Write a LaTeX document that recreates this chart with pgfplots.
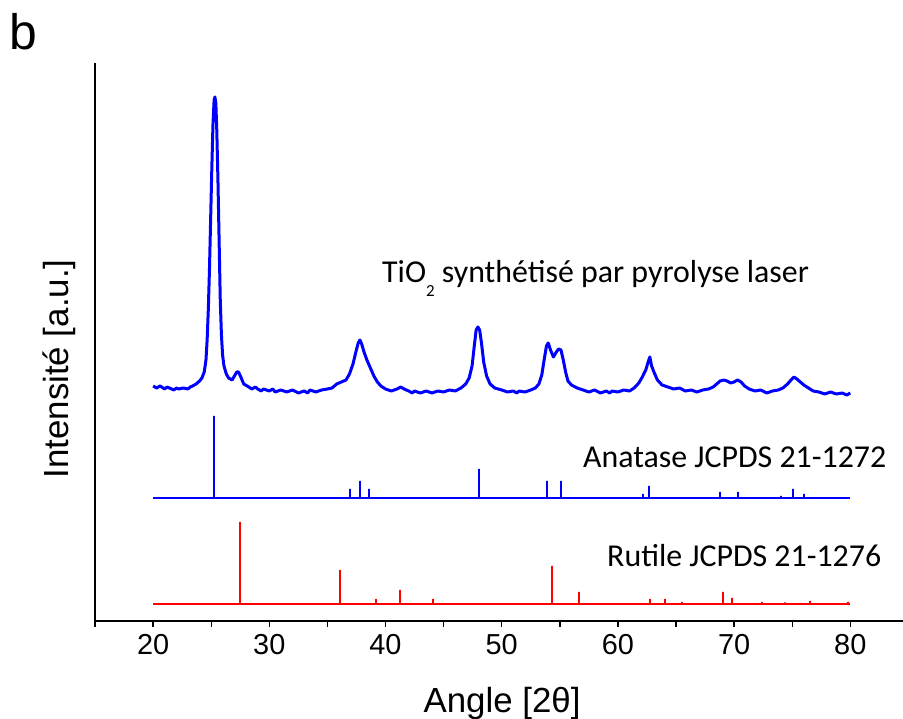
\documentclass[border=0pt]{standalone}
\usepackage{pgfplots}
\pgfplotsset{compat=1.18}
\usepackage{fontspec}
\setmainfont{Liberation Sans}
\newfontfamily\calibri{Carlito}
\definecolor{pblue}{RGB}{0,0,255}
\definecolor{pred}{RGB}{255,0,0}
\begin{document}
\begin{tikzpicture}
\useasboundingbox (0,0) rectangle (903bp,719bp);
\begin{axis}[
  at={(95bp,98bp)}, anchor=south west,
  scale only axis, width=813.4bp, height=558bp,
  xmin=15, xmax=85, ymin=0, ymax=558,
  axis x line=bottom, axis y line=left,
  axis line style={line width=1.6bp,-},
  xtick={20,30,...,80}, minor xtick={15,25,...,85},
  ytick=\empty,
  tick align=outside,
  major tick length=6bp, minor tick length=6bp,
  every tick/.style={black, line width=1.4bp},
  /pgf/number format/assume math mode=true,
  tick label style={font=\fontsize{29}{34}\selectfont},
  xticklabel style={yshift=-4bp},
  xlabel={Angle [2θ]},
  ylabel={Intensité [a.u.]},
  label style={font=\fontsize{35}{42}\selectfont},
  xlabel style={at={(axis description cs:0.5004,-0.1470)}, anchor=center},
  ylabel style={at={(axis description cs:-0.0443,0.4516)}, anchor=center},
  clip=false,
]
% TiO2 pattern
\addplot[pblue, line width=3bp, line join=round] coordinates {
(20.0,235) (20.3,233) (20.6,235) (21.0,232) (21.2,234) (21.4,233) (21.8,231) (22.0,233) (22.2,232) (22.6,233)
(23.0,232) (23.2,234) (23.4,235) (23.7,237) (24.0,240) (24.2,243) (24.4,249) (24.55,261) (24.65,281)
(24.75,311) (24.85,351) (24.95,401) (25.05,451) (25.15,496) (25.25,521) (25.32,524) (25.40,518)
(25.48,491) (25.58,441) (25.68,381) (25.78,321) (25.88,286) (25.98,266) (26.1,255) (26.3,247)
(26.5,243) (26.8,241) (27.0,245) (27.2,249) (27.35,249) (27.55,244) (27.8,237) (28.1,235)
(28.5,232) (28.8,234) (29.0,232) (29.3,230) (29.5,232) (30.0,230) (30.3,232) (30.5,229) (31.0,231) (31.5,229) (32.0,231)
(32.5,228) (33.0,230) (33.3,228) (33.5,231) (34.0,229) (34.5,231) (35.0,232) (35.4,233) (35.8,237)
(36.2,239) (36.6,241) (36.9,247) (37.2,257) (37.45,269) (37.65,278) (37.8,281) (37.95,277)
(38.15,269) (38.4,261) (38.7,253) (39.0,245) (39.3,239) (39.6,235) (40.0,232) (40.5,230)
(41.0,232) (41.3,234) (41.6,232) (42.0,230) (42.3,228) (42.5,230) (43.0,228) (43.5,230) (44.0,228)
(44.5,230) (45.0,229) (45.5,231) (46.0,230) (46.5,233) (46.9,237) (47.2,243) (47.45,255)
(47.65,276) (47.8,291) (47.95,294) (48.1,291) (48.25,279) (48.45,259) (48.7,245) (49.0,237)
(49.4,233) (50.0,231) (50.5,229) (51.0,230) (51.3,228) (51.5,230) (52.0,229) (52.5,231) (52.9,233)
(53.2,237) (53.45,246) (53.65,261) (53.85,275) (54.0,278) (54.2,271) (54.45,264) (54.7,269)
(54.9,272) (55.1,271) (55.3,261) (55.5,249) (55.7,240) (56.0,236) (56.5,233) (57.0,231)
(57.5,229) (58.0,231) (58.5,228) (59.0,230) (59.3,228) (59.5,230) (60.0,229) (60.5,231) (61.0,230)
(61.4,233) (61.8,238) (62.1,244) (62.4,251) (62.6,259) (62.75,264) (62.9,255) (63.1,249)
(63.4,241) (63.8,236) (64.3,234) (64.8,232) (65.3,233) (65.8,230) (66.3,231) (66.8,229)
(67.3,231) (67.8,232) (68.2,234) (68.5,237) (68.8,240) (69.1,241) (69.4,240) (69.7,238)
(70.0,239) (70.3,241) (70.6,239) (70.9,235) (71.3,232) (71.8,230) (72.3,231) (72.8,228)
(73.3,230) (73.8,231) (74.2,233) (74.6,237) (74.9,241) (75.15,244) (75.4,242) (75.7,239)
(76.0,236) (76.4,233) (76.8,230) (77.3,229) (77.8,227) (78.3,229) (78.8,227) (79.3,228)
(79.7,226) (80.0,228)
};
% Anatase JCPDS 21-1272
\addplot[pblue, line width=2bp] coordinates {
(20,123) (25.28,123) (25.28,205) (25.28,123) (36.95,123) (36.95,132) (36.95,123)
(37.80,123) (37.80,140) (37.80,123) (38.58,123) (38.58,132) (38.58,123)
(48.05,123) (48.05,152) (48.05,123) (53.89,123) (53.89,140) (53.89,123)
(55.06,123) (55.06,140) (55.06,123) (62.12,123) (62.12,127) (62.12,123)
(62.69,123) (62.69,135) (62.69,123) (68.76,123) (68.76,129) (68.76,123)
(70.31,123) (70.31,129) (70.31,123) (74.03,123) (74.03,125) (74.03,123)
(75.03,123) (75.03,132) (75.03,123) (76.02,123) (76.02,127) (76.02,123) (80,123)
};
% Rutile JCPDS 21-1276
\addplot[pred, line width=2bp] coordinates {
(20,17) (27.45,17) (27.45,99) (27.45,17) (36.09,17) (36.09,51) (36.09,17)
(39.19,17) (39.19,22) (39.19,17) (41.23,17) (41.23,31) (41.23,17)
(44.05,17) (44.05,22) (44.05,17) (54.32,17) (54.32,55) (54.32,17)
(56.64,17) (56.64,29) (56.64,17) (62.74,17) (62.74,22) (62.74,17)
(64.04,17) (64.04,22) (64.04,17) (65.48,17) (65.48,19) (65.48,17)
(69.01,17) (69.01,29) (69.01,17) (69.79,17) (69.79,23) (69.79,17)
(72.41,17) (72.41,19) (72.41,17) (74.41,17) (74.41,18.5) (74.41,17)
(76.51,17) (76.51,20) (76.51,17) (79.82,17) (79.82,19) (79.82,17) (80,17)
};
\end{axis}
\node[anchor=base west, inner sep=0] at (382bp,436bp) {\calibri\fontsize{32}{38}\selectfont TiO\raisebox{-0.42em}{\fontsize{17}{20}\selectfont 2} synthétisé par pyrolyse laser};
\node[anchor=base west, inner sep=0] at (583bp,251bp) {\calibri\fontsize{32}{38}\selectfont Anatase JCPDS 21-1272};
\node[anchor=base west, inner sep=0] at (607bp,152bp) {\calibri\fontsize{32}{38}\selectfont Rutile JCPDS 21-1276};
\node[anchor=base west, inner sep=0] at (9bp,669bp) {\fontsize{50}{60}\selectfont b};
\end{tikzpicture}
\end{document}
